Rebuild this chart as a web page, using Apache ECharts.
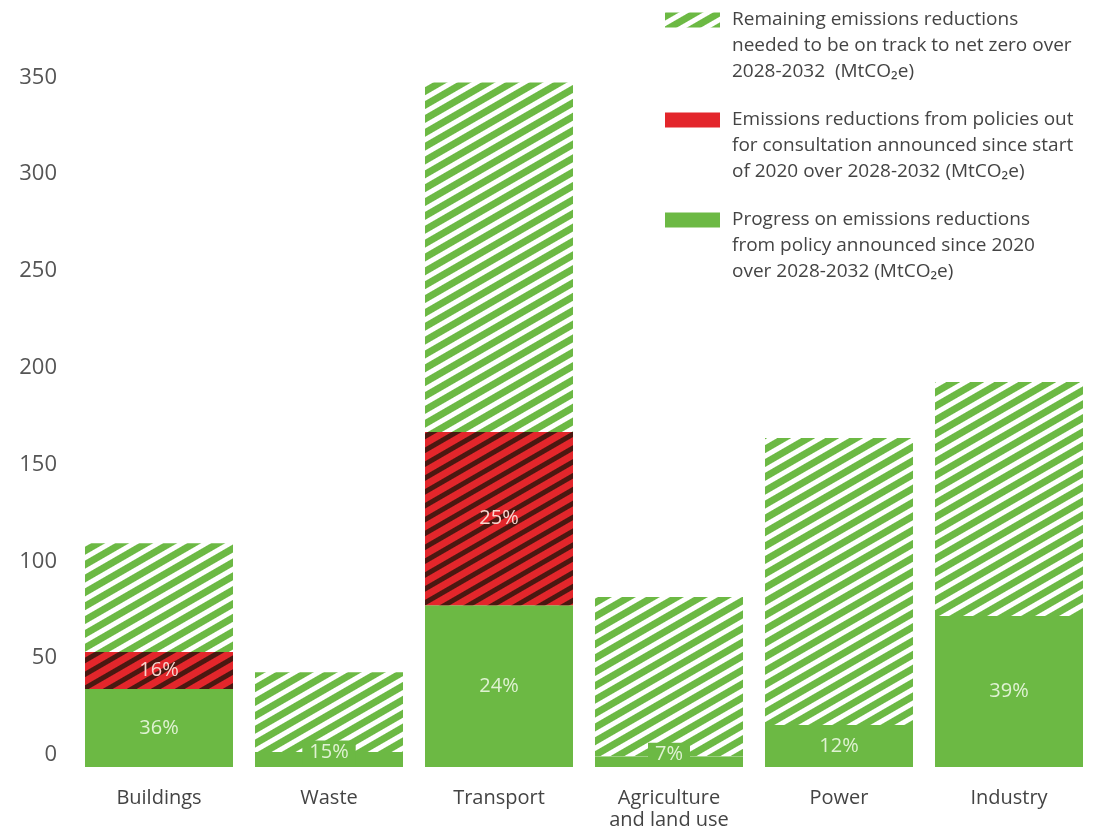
<!DOCTYPE html>
<html>
<head>
<meta charset="utf-8">
<script src="https://cdn.jsdelivr.net/npm/echarts@6/dist/echarts.min.js"></script>
<style>
  html, body { margin: 0; padding: 0; background: #fff; }
  #chart { width: 1094px; height: 828px; }
</style>
</head>
<body>
<div id="chart"></div>
<script>
// sectors along the x axis
const categories = ['Buildings', 'Waste', 'Transport', 'Agriculture\nand land use', 'Power', 'Industry']

// MtCO2e over 2028-2032
const progress = [40.3, 7.7, 83.6, 5.5, 21.7, 78]
const consultation = [19.1, 0, 89.4, 0, 0, 0]
const remaining = [56.2, 41.3, 180.6, 82.3, 148.2, 120.8]

// share labels printed on the bars
const progressPct = ['36%', '15%', '24%', '7%', '12%', '39%']
const consultationPct = ['16%', '', '25%', '', '', '']

const yTicks = [0, 50, 100, 150, 200, 250, 300, 350]

const legendText = {
  remaining: 'Remaining emissions reductions\nneeded to be on track to net zero over\n2028-2032  (MtCO\u2082e)',
  consultation: 'Emissions reductions from policies out\nfor consultation announced since start\nof 2020 over 2028-2032 (MtCO\u2082e)',
  progress: 'Progress on emissions reductions\nfrom policy announced since 2020\nover 2028-2032 (MtCO\u2082e)'
}

const GREEN = '#6cb944'
const RED = '#e3262b'
const FONT = '"Open Sans", "Noto Sans", sans-serif'

const chart = echarts.init(document.getElementById('chart'))

chart.setOption({
  animation: false,
  textStyle: { fontFamily: FONT },
  grid: { left: 74, right: 0, top: 70, bottom: 61, outerBoundsMode: 'none' },
  legend: {
    orient: 'vertical',
    left: 665,
    top: -45,
    padding: 0,
    itemGap: -30,
    itemWidth: 55,
    itemHeight: 15,
    icon: 'rect',
    selectedMode: false,
    data: [
      { name: 'remaining' },
      { name: 'consultation', itemStyle: { decal: 'none' } },
      { name: 'progress' }
    ],
    // two blank lines on top so the icon sits level with the first line
    formatter: name => '\n\n' + legendText[name],
    textStyle: {
      fontSize: 19,
      lineHeight: 26,
      color: '#444',
      padding: [0, 0, 0, 7]
    }
  },
  xAxis: {
    type: 'category',
    data: categories,
    axisLine: { show: false },
    axisTick: { show: false },
    axisLabel: {
      interval: 0,
      fontSize: 20,
      lineHeight: 22,
      color: '#444',
      margin: 20
    }
  },
  yAxis: {
    type: 'value',
    min: 0,
    max: 360,
    interval: 50,
    splitLine: { show: false },
    axisLine: { show: false },
    axisTick: { show: false },
    axisLabel: {
      fontSize: 22,
      lineHeight: 24,
      verticalAlign: 'bottom',
      color: '#555',
      margin: 17,
      formatter: v => (yTicks.includes(v) ? String(v) : '')
    }
  },
  series: [
    {
      name: 'progress',
      type: 'bar',
      stack: 'total',
      barWidth: 148,
      itemStyle: { color: GREEN },
      label: {
        show: true,
        position: 'inside',
        fontSize: 20,
        color: '#dff2d2',
        formatter: p => progressPct[p.dataIndex]
      },
      data: progress.map(v => (v < 10
        ? { value: v, label: { backgroundColor: GREEN, padding: [2, 7], offset: [0, -7] } }
        : v))
    },
    {
      name: 'consultation',
      type: 'bar',
      stack: 'total',
      barWidth: 148,
      itemStyle: {
        color: RED,
        decal: {
          symbol: 'rect',
          symbolSize: 1,
          dashArrayX: [10, 0],
          dashArrayY: [5, 7],
          rotation: -Math.PI / 6,
          color: '#4a1811'
        }
      },
      label: {
        show: true,
        position: 'inside',
        fontSize: 20,
        color: '#f7d6cf',
        formatter: p => consultationPct[p.dataIndex]
      },
      data: consultation
    },
    {
      name: 'remaining',
      type: 'bar',
      stack: 'total',
      barWidth: 148,
      itemStyle: {
        color: '#ffffff',
        decal: {
          symbol: 'rect',
          symbolSize: 1,
          dashArrayX: [10, 0],
          dashArrayY: [7, 5],
          rotation: -Math.PI / 6,
          color: GREEN
        }
      },
      data: remaining
    }
  ]
})
</script>
</body>
</html>
